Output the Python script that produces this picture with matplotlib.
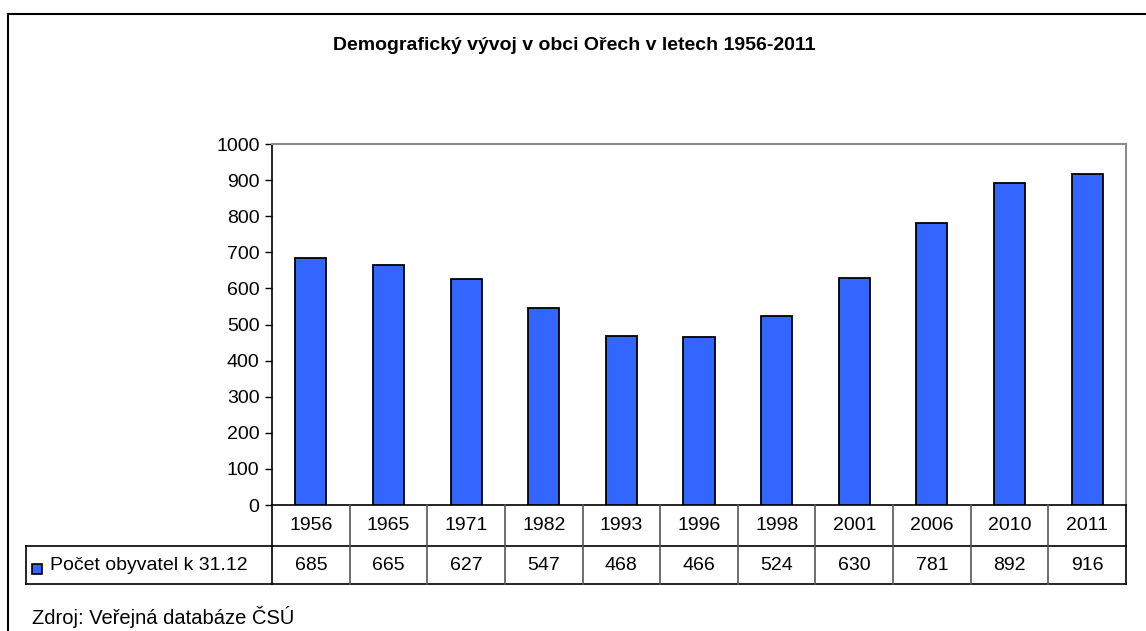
import numpy as np
import matplotlib.pyplot as plt
from matplotlib.patches import Rectangle
from matplotlib.lines import Line2D

plt.rcParams['font.family'] = ['Liberation Sans', 'DejaVu Sans']

# data
years = ["1956", "1965", "1971", "1982", "1993", "1996", "1998", "2001", "2006", "2010", "2011"]
pocet = [685, 665, 627, 547, 468, 466, 524, 630, 781, 892, 916]
series_name = "Počet obyvatel k 31.12"
title = "Demografický vývoj v obci Ořech v letech 1956-2011"
source = "Zdroj: Veřejná databáze ČSÚ"

W, H = 1146, 631
fig = plt.figure(figsize=(W / 100, H / 100), dpi=100)

# pixel layout of the plot area
px_l, px_r, px_t, px_b = 272, 1126, 144, 505
ax = fig.add_axes([px_l / W, 1 - px_b / H, (px_r - px_l) / W, (px_b - px_t) / H])

x = np.arange(len(years))
ax.bar(x, pocet, width=0.4, color="#3366FF", edgecolor="black", linewidth=1.3, zorder=3)
ax.set_xlim(-0.5, len(years) - 0.5)
ax.set_ylim(0, 1000)
ax.set_yticks(np.arange(0, 1001, 100))
ax.tick_params(axis="y", direction="out", length=5, width=1, labelsize=14, pad=4)
ax.tick_params(axis="x", bottom=False, labelbottom=False)
for s in ["top", "right"]:
    ax.spines[s].set_color("#8c8c8c")
    ax.spines[s].set_linewidth(1.5)
ax.spines["left"].set_linewidth(1.2)
ax.spines["bottom"].set_linewidth(1.2)

# data table below the plot
unit = (px_r - px_l) / len(years)
leg_l = 26
row1_b, row2_b = 546, 584
tab = fig.add_axes([leg_l / W, 1 - row2_b / H, (px_r - leg_l) / W, (row2_b - px_b) / H])
tab.set_xlim(-0.5 - (px_l - leg_l) / unit, len(years) - 0.5)
tab.set_ylim(row2_b, px_b)
tab.axis("off")
x0 = -0.5 - (px_l - leg_l) / unit
xr = len(years) - 0.5
lc = dict(color="black", linewidth=1.2, clip_on=False)
tab.plot([-0.5, xr], [row1_b, row1_b], **lc)
tab.plot([x0, xr], [row2_b, row2_b], **lc)
tab.plot([x0, -0.5], [row1_b, row1_b], **lc)
tab.plot([x0, x0], [row1_b, row2_b], **lc)
tab.plot([xr, xr], [px_b, row2_b], **lc)
tab.plot([-0.5, -0.5], [px_b, row2_b], **lc)
for i in range(1, len(years)):
    tab.plot([i - 0.5, i - 0.5], [px_b, row2_b], color="#555555", linewidth=1.2, clip_on=False)
for i, (yr, v) in enumerate(zip(years, pocet)):
    tab.text(i, (px_b + row1_b) / 2 + 0.5, yr, ha="center", va="center", fontsize=14)
    tab.text(i, (row1_b + row2_b) / 2 + 0.5, str(v), ha="center", va="center", fontsize=14)

# legend key in the table
tab.add_patch(Rectangle((x0 + 6 / unit, 568.5 - 5), 10 / unit, 10, facecolor="#3366FF",
                        edgecolor="black", linewidth=1.2, clip_on=False))
tab.text(x0 + 24 / unit, (row1_b + row2_b) / 2 + 0.5, series_name, ha="left", va="center", fontsize=14)

# title, source and outer frame
fig.text(574 / W, 1 - 45 / H, title, ha="center", va="center", fontsize=14, fontweight="bold")
fig.text(32 / W, 1 - 617 / H, source, ha="left", va="center", fontsize=14.5)
fig.add_artist(Line2D([8 / W, 8 / W], [0, 1 - 13.5 / H], transform=fig.transFigure, color="black", linewidth=1.5))
fig.add_artist(Line2D([8 / W, 1], [1 - 13.5 / H, 1 - 13.5 / H], transform=fig.transFigure, color="black", linewidth=1.5))

fig.savefig("out.png", dpi=100)
